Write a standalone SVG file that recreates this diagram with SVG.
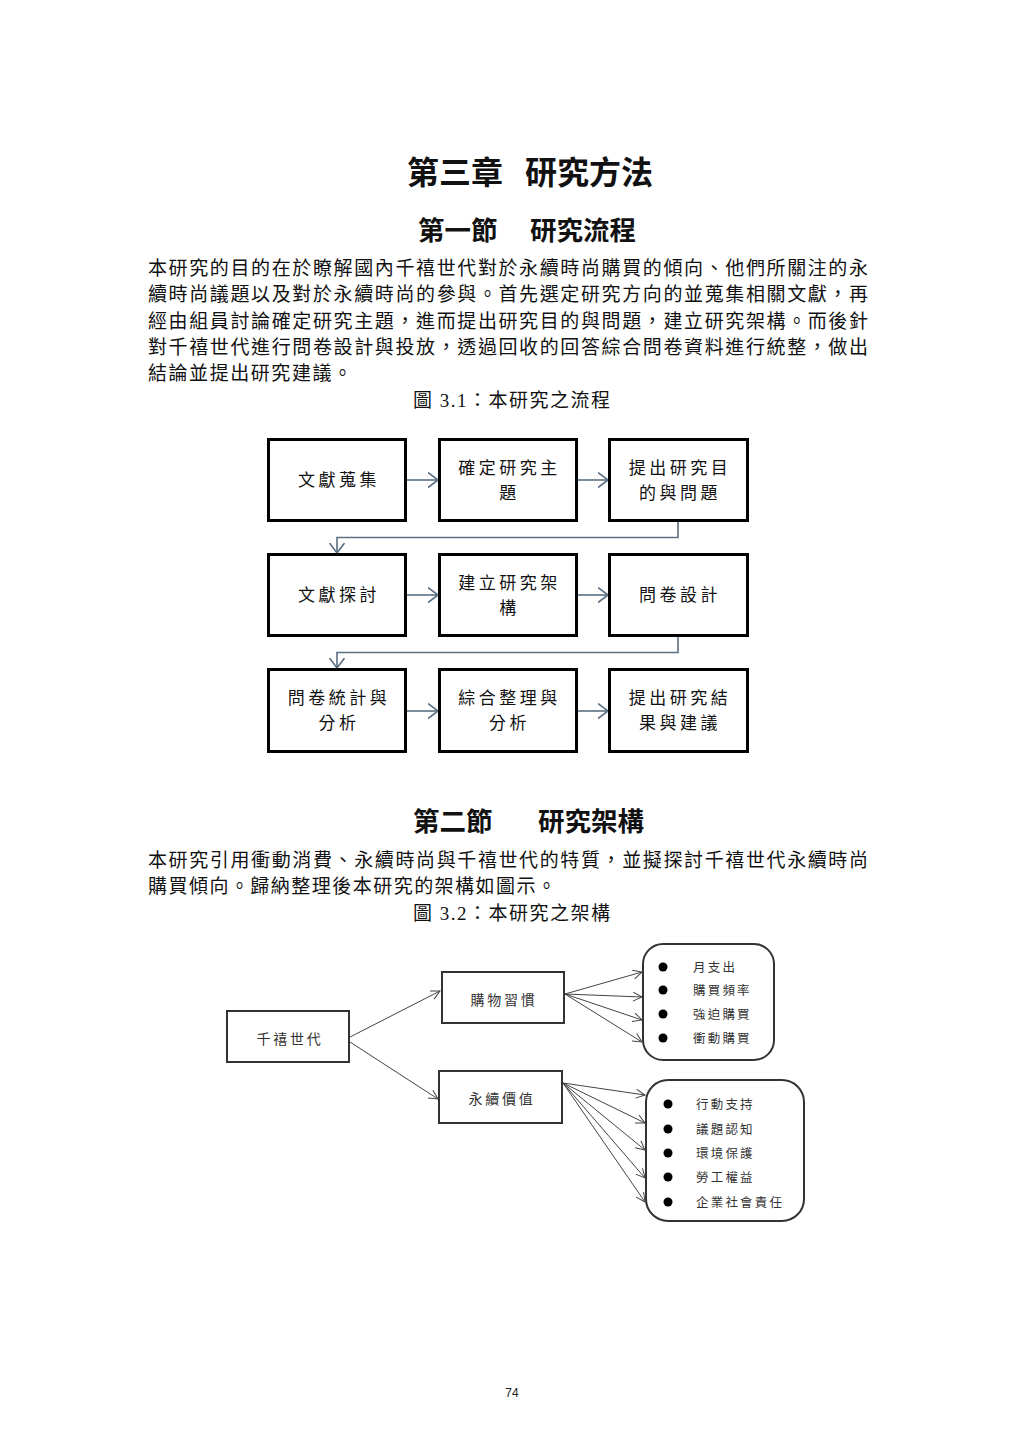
<svg xmlns="http://www.w3.org/2000/svg" width="1024" height="1448" viewBox="0 0 1024 1448">
<style>
.cjk{font-family:"Noto Sans CJK TC","Noto Sans CJK SC",sans-serif;fill:#111}
.title{font-size:32px;font-weight:700}
.sec{font-size:26.5px;font-weight:700}
.para{font-size:19px}
.cap{font-family:"Liberation Serif","Noto Sans CJK TC",serif;font-size:19px;fill:#111}
.fbox{fill:#fff;stroke:#000;stroke-width:3}
.ftxt{font-size:17px;letter-spacing:3.5px;text-anchor:middle}
.fconn{fill:none;stroke:#5a6f82;stroke-width:1.6}
.box2{fill:#fff;stroke:#333;stroke-width:2}
.t2{font-size:14px;letter-spacing:2.7px;text-anchor:middle;fill:#333}
.b2{font-size:12.5px;letter-spacing:2.2px;fill:#333}
.conn2{fill:none;stroke:#444;stroke-width:1}
.dot{fill:#000}
</style>
<defs>
<marker id="fa" markerUnits="userSpaceOnUse" markerWidth="14" markerHeight="20" refX="10.5" refY="8" orient="auto">
<path d="M0.5,0.5 L10.5,8 L0.5,15.5" fill="none" stroke="#5a6f82" stroke-width="1.6"/>
</marker>
<marker id="a2" markerUnits="userSpaceOnUse" markerWidth="12" markerHeight="12" refX="9.5" refY="5" orient="auto">
<path d="M0.5,0.5 L9.5,5 L0.5,9.5" fill="none" stroke="#444" stroke-width="1"/>
</marker>
</defs>
<rect width="1024" height="1448" fill="#fff"/>

<g id="headings" class="cjk">
<text class="cjk title" y="184"><tspan x="407">第三章</tspan><tspan x="525">研究方法</tspan></text>
<text class="cjk sec" y="240"><tspan x="418">第一節</tspan><tspan x="530">研究流程</tspan></text>
<text class="cjk sec" y="831"><tspan x="413">第二節</tspan><tspan x="538">研究架構</tspan></text>
</g>

<g id="paragraph1" class="cjk para">
<text class="cjk para" x="148" y="275" textLength="720" lengthAdjust="spacing">本研究的目的在於瞭解國內千禧世代對於永續時尚購買的傾向、他們所關注的永</text>
<text class="cjk para" x="148" y="301" textLength="720" lengthAdjust="spacing">續時尚議題以及對於永續時尚的參與。首先選定研究方向的並蒐集相關文獻，再</text>
<text class="cjk para" x="148" y="328" textLength="720" lengthAdjust="spacing">經由組員討論確定研究主題，進而提出研究目的與問題，建立研究架構。而後針</text>
<text class="cjk para" x="148" y="354" textLength="720" lengthAdjust="spacing">對千禧世代進行問卷設計與投放，透過回收的回答綜合問卷資料進行統整，做出</text>
<text class="cjk para" x="148" y="380" textLength="204" lengthAdjust="spacing">結論並提出研究建議。</text>
<text class="cap" x="413" y="407" textLength="197" lengthAdjust="spacing">圖 3.1：本研究之流程</text>
</g>

<g id="paragraph2">
<text class="cjk para" x="148" y="867" textLength="720" lengthAdjust="spacing">本研究引用衝動消費、永續時尚與千禧世代的特質，並擬探討千禧世代永續時尚</text>
<text class="cjk para" x="148" y="893" textLength="408" lengthAdjust="spacing">購買傾向。歸納整理後本研究的架構如圖示。</text>
<text class="cap" x="413" y="920" textLength="197" lengthAdjust="spacing">圖 3.2：本研究之架構</text>
</g>

<g id="flow-connectors">
<line class="fconn" x1="407" y1="480" x2="438" y2="480" marker-end="url(#fa)"/>
<line class="fconn" x1="578" y1="480" x2="608" y2="480" marker-end="url(#fa)"/>
<polyline class="fconn" points="678,522 678,537.5 337,537.5 337,553" marker-end="url(#fa)"/>
<line class="fconn" x1="407" y1="595" x2="438" y2="595" marker-end="url(#fa)"/>
<line class="fconn" x1="578" y1="595" x2="608" y2="595" marker-end="url(#fa)"/>
<polyline class="fconn" points="678,637 678,652.5 337,652.5 337,668" marker-end="url(#fa)"/>
<line class="fconn" x1="407" y1="711" x2="438" y2="711" marker-end="url(#fa)"/>
<line class="fconn" x1="578" y1="711" x2="608" y2="711" marker-end="url(#fa)"/>
</g>

<g id="f1"><rect class="fbox" x="268.5" y="439.5" width="137" height="81"/><text class="cjk ftxt" x="339" y="486">文獻蒐集</text></g>
<g id="f2"><rect class="fbox" x="439.5" y="439.5" width="137" height="81"/><text class="cjk ftxt" x="509.5" y="474">確定研究主</text><text class="cjk ftxt" x="509.5" y="499">題</text></g>
<g id="f3"><rect class="fbox" x="609.5" y="439.5" width="138" height="81"/><text class="cjk ftxt" x="680" y="474">提出研究目</text><text class="cjk ftxt" x="680" y="499">的與問題</text></g>
<g id="f4"><rect class="fbox" x="268.5" y="554.5" width="137" height="81"/><text class="cjk ftxt" x="339" y="601">文獻探討</text></g>
<g id="f5"><rect class="fbox" x="439.5" y="554.5" width="137" height="81"/><text class="cjk ftxt" x="509.5" y="589">建立研究架</text><text class="cjk ftxt" x="509.5" y="614">構</text></g>
<g id="f6"><rect class="fbox" x="609.5" y="554.5" width="138" height="81"/><text class="cjk ftxt" x="680" y="601">問卷設計</text></g>
<g id="f7"><rect class="fbox" x="268.5" y="669.5" width="137" height="82"/><text class="cjk ftxt" x="339" y="704">問卷統計與</text><text class="cjk ftxt" x="339" y="729">分析</text></g>
<g id="f8"><rect class="fbox" x="439.5" y="669.5" width="137" height="82"/><text class="cjk ftxt" x="509.5" y="704">綜合整理與</text><text class="cjk ftxt" x="509.5" y="729">分析</text></g>
<g id="f9"><rect class="fbox" x="609.5" y="669.5" width="138" height="82"/><text class="cjk ftxt" x="680" y="704">提出研究結</text><text class="cjk ftxt" x="680" y="729">果與建議</text></g>

<g id="framework-connectors">
<line class="conn2" x1="350" y1="1037" x2="440" y2="991" marker-end="url(#a2)"/>
<line class="conn2" x1="350" y1="1042" x2="438" y2="1099" marker-end="url(#a2)"/>
<line class="conn2" x1="565" y1="994" x2="642" y2="972" marker-end="url(#a2)"/>
<line class="conn2" x1="565" y1="994" x2="642" y2="997" marker-end="url(#a2)"/>
<line class="conn2" x1="565" y1="994" x2="642" y2="1020" marker-end="url(#a2)"/>
<line class="conn2" x1="565" y1="994" x2="642" y2="1042" marker-end="url(#a2)"/>
<line class="conn2" x1="563" y1="1083" x2="645" y2="1095" marker-end="url(#a2)"/>
<line class="conn2" x1="563" y1="1083" x2="645" y2="1123" marker-end="url(#a2)"/>
<line class="conn2" x1="563" y1="1083" x2="645" y2="1150" marker-end="url(#a2)"/>
<line class="conn2" x1="563" y1="1083" x2="645" y2="1178" marker-end="url(#a2)"/>
<line class="conn2" x1="563" y1="1083" x2="645" y2="1202" marker-end="url(#a2)"/>
</g>

<g id="millennials"><rect class="box2" x="227" y="1011" width="122" height="51"/><text class="cjk t2" x="290" y="1043.5">千禧世代</text></g>
<g id="shopping-habits"><rect class="box2" x="442" y="972" width="122" height="51"/><text class="cjk t2" x="504" y="1004.5">購物習慣</text></g>
<g id="sustainable-value"><rect class="box2" x="439" y="1071" width="123" height="52"/><text class="cjk t2" x="502" y="1103.5">永續價值</text></g>

<g id="habits-list">
<rect class="box2" x="643" y="944" width="131" height="116" rx="20" stroke="#222"/>
<circle class="dot" cx="663" cy="967" r="4.5"/><text class="cjk b2" x="693" y="972">月支出</text>
<circle class="dot" cx="663" cy="990" r="4.5"/><text class="cjk b2" x="693" y="995">購買頻率</text>
<circle class="dot" cx="663" cy="1014" r="4.5"/><text class="cjk b2" x="693" y="1019">強迫購買</text>
<circle class="dot" cx="663" cy="1038" r="4.5"/><text class="cjk b2" x="693" y="1043">衝動購買</text>
</g>

<g id="values-list">
<rect class="box2" x="646" y="1080" width="158" height="141" rx="22" stroke="#222"/>
<circle class="dot" cx="668" cy="1104" r="4.5"/><text class="cjk b2" x="696" y="1109">行動支持</text>
<circle class="dot" cx="668" cy="1129" r="4.5"/><text class="cjk b2" x="696" y="1134">議題認知</text>
<circle class="dot" cx="668" cy="1153" r="4.5"/><text class="cjk b2" x="696" y="1158">環境保護</text>
<circle class="dot" cx="668" cy="1177" r="4.5"/><text class="cjk b2" x="696" y="1182">勞工權益</text>
<circle class="dot" cx="668" cy="1202" r="4.5"/><text class="cjk b2" x="696" y="1207">企業社會責任</text>
</g>

<text x="512" y="1397" font-family="Liberation Sans, Arial, sans-serif" font-size="12" text-anchor="middle" fill="#222">74</text>
</svg>
